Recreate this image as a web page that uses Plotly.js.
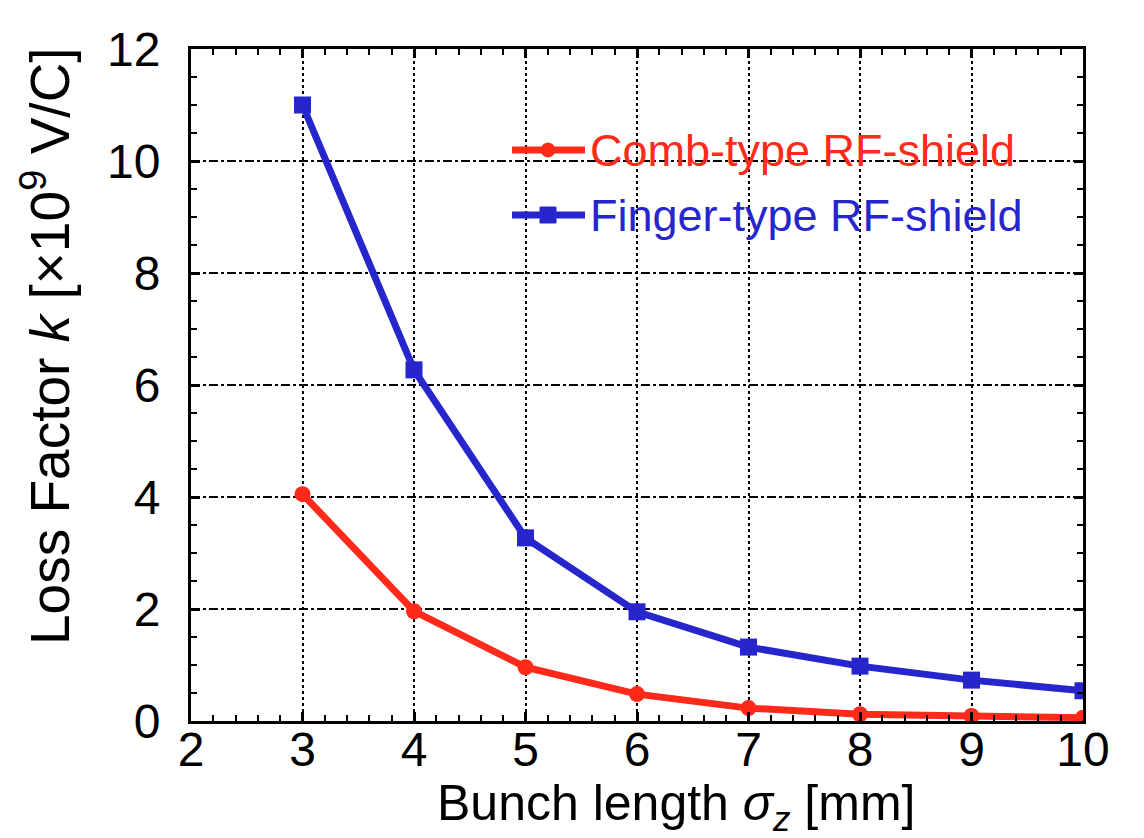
<!DOCTYPE html>
<html>
<head>
<meta charset="utf-8">
<script src="https://cdn.plot.ly/plotly-3.0.1.min.js"></script>
<style>body{margin:0;background:#fff}#chart{width:1144px;height:838px}</style>
</head>
<body>
<div id="chart"></div>
<script>
const bunchLength = [3, 4, 5, 6, 7, 8, 9, 10];
const combType = [4.05, 1.96, 0.96, 0.48, 0.23, 0.12, 0.09, 0.06];
const fingerType = [11.0, 6.27, 3.27, 1.95, 1.32, 0.98, 0.73, 0.54];
const seriesNames = ['Comb-type RF-shield', 'Finger-type RF-shield'];
const xTicks = [2, 3, 4, 5, 6, 7, 8, 9, 10];
const yTicks = [0, 2, 4, 6, 8, 10, 12];
const xTitle = 'Bunch length <i>σ<sub>z</sub></i> [mm]';
const yTitle = 'Loss Factor <i>k</i> [×10<sup>9</sup> V/C]';

const RED = '#ff2a1a';
const BLUE = '#2626cc';
const FONT = 'Liberation Sans, Arial, Helvetica, sans-serif';

const W = 1144, H = 838;
const M = {l: 191, r: 61, t: 49, b: 117};
const PW = W - M.l - M.r, PH = H - M.t - M.b;
const px = v => (v - M.l) / PW;        // pixel -> paper x
const py = v => (H - M.b - v) / PH;     // pixel -> paper y

const traces = [
  {
    x: bunchLength, y: combType, type: 'scatter', mode: 'lines+markers',
    name: seriesNames[0], showlegend: false,
    line: {color: RED, width: 7},
    marker: {symbol: 'circle', size: 16, color: RED}
  },
  {
    x: bunchLength, y: fingerType, type: 'scatter', mode: 'lines+markers',
    name: seriesNames[1], showlegend: false,
    line: {color: BLUE, width: 7},
    marker: {symbol: 'square', size: 17, color: BLUE}
  }
];

// custom legend (box, sample lines, markers, coloured labels)
const legendRows = [
  {yPix: 150, color: RED, kind: 'circle', label: seriesNames[0]},
  {yPix: 215, color: BLUE, kind: 'rect', label: seriesNames[1]}
];
const shapes = [{
  type: 'rect', xref: 'paper', yref: 'paper', layer: 'below',
  x0: px(497), x1: px(1035), y0: py(250), y1: py(115),
  fillcolor: '#fff', line: {width: 0}
}];
const annotations = [];
legendRows.forEach(r => {
  shapes.push({type: 'line', xref: 'paper', yref: 'paper',
    x0: px(512), x1: px(585), y0: py(r.yPix), y1: py(r.yPix),
    line: {color: r.color, width: 7}});
  const s = r.kind === 'circle' ? 7 : 8;
  shapes.push({type: r.kind, xref: 'paper', yref: 'paper',
    x0: px(548 - s), x1: px(548 + s), y0: py(r.yPix + s), y1: py(r.yPix - s),
    fillcolor: r.color, line: {color: r.color, width: 1}});
  annotations.push({xref: 'paper', yref: 'paper', x: px(588), y: py(r.yPix),
    xanchor: 'left', yanchor: 'middle', showarrow: false, text: r.label,
    font: {family: FONT, size: 45, color: r.color}});
});
// axis titles
annotations.push({xref: 'paper', yref: 'paper', x: px(676), y: py(806),
  xanchor: 'center', yanchor: 'middle', showarrow: false, text: xTitle,
  font: {family: FONT, size: 50, color: '#000'}});
annotations.push({xref: 'paper', yref: 'paper', x: px(46), y: py(346),
  xanchor: 'center', yanchor: 'middle', showarrow: false, text: yTitle, textangle: -90,
  font: {family: FONT, size: 55, color: '#000'}});

const axisCommon = {
  showline: true, linecolor: '#000', linewidth: 3, mirror: 'allticks',
  ticks: 'inside', tickcolor: '#000', tickwidth: 3, ticklen: 9,
  zeroline: false, showgrid: true, gridcolor: '#000', gridwidth: 2,
  tickfont: {family: FONT, size: 48, color: '#000'}
};

const layout = {
  width: W, height: H,
  paper_bgcolor: '#fff', plot_bgcolor: '#fff',
  margin: M,
  showlegend: false,
  shapes: shapes,
  annotations: annotations,
  xaxis: Object.assign({}, axisCommon, {
    range: [2, 10], tickvals: xTicks, ticktext: xTicks.map(String),
    griddash: 'dot', ticklabelstandoff: -16,
    minor: {dtick: 0.2, ticks: 'inside', ticklen: 6, tickcolor: '#000', tickwidth: 2, showgrid: false}
  }),
  yaxis: Object.assign({}, axisCommon, {
    range: [0, 12], tickvals: yTicks, ticktext: yTicks.map(String),
    griddash: 'dashdot', ticklabelstandoff: 18,
    minor: {dtick: 0.5, ticks: 'inside', ticklen: 6, tickcolor: '#000', tickwidth: 2, showgrid: false}
  })
};

Plotly.newPlot('chart', traces, layout, {displayModeBar: false, staticPlot: true});
</script>
</body>
</html>
